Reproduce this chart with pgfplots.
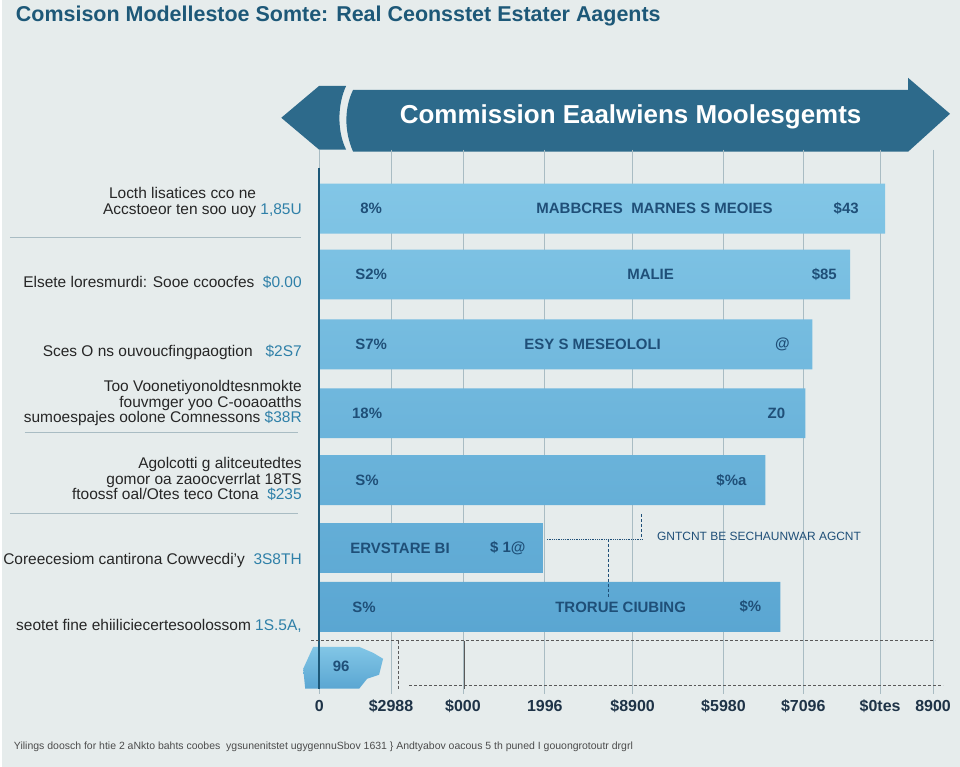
\documentclass[border=0pt]{standalone}
\usepackage{pgfplots}
\pgfplotsset{compat=1.18}
\usepackage{fontspec}
\setmainfont{Liberation Sans}
\definecolor{bg}{HTML}{E6ECEC}
\definecolor{bartop}{HTML}{82C6E6}
\definecolor{barbot}{HTML}{5AA6D2}
\definecolor{navy}{HTML}{1D5878}
\definecolor{banner}{HTML}{2D6A8B}
\definecolor{valblue}{HTML}{2F80A8}
\definecolor{gridc}{HTML}{A9BCC3}
\definecolor{inbar}{HTML}{1F4F78}
\definecolor{ticktxt}{HTML}{1E3347}
\newcommand{\fs}[1]{\fontsize{#1pt}{#1pt}\selectfont}
\begin{document}
\begin{tikzpicture}
\begin{scope}[x=1pt,y=-1pt]
\fill[bg] (0,0) rectangle (960,768);
% title
\node[anchor=west, text=navy, font=\fs{21.5}\bfseries, inner sep=0pt] at (14,16) {Comsison Modellestoe Somte: Real Ceonsstet Estater Aagents};
% banner
\fill[banner] (280,118) -- (318,86) -- (345,86) .. controls (336,105) and (336,132) .. (345,150) -- (318,150) -- cycle;
\fill[banner] (352,90) -- (908,90) -- (908,78) -- (950,114) -- (908,152) -- (908,152) -- (352,152) .. controls (343,132) and (343,108) .. (352,90) -- cycle;
\node[text=white, font=\fs{26}\bfseries] at (630,117) {Commission Eaalwiens Moolesgemts};
% left separators
\draw[gridc, line width=0.8pt] (8,238) -- (300,238);
\draw[gridc, line width=0.8pt] (23,433) -- (297,433);
\draw[gridc, line width=0.8pt] (8,514) -- (297,514);
% footer
\node[anchor=west, text=black!70, font=\fs{10.5}, inner sep=0pt] at (12,748) {Yilings doosch for htie 2 aNkto bahts coobes \ ygsunenitstet ugygennuSbov 1631 \} Andtyabov oacous 5 th puned I gouongrotoutr drgrl};
\end{scope}
\begin{axis}[
  x=1pt, y=1pt, y dir=reverse,
  anchor=north west, at={(318pt,-150pt)},
  xmin=0, xmax=620, ymin=150, ymax=695,
  axis line style={draw=none},
  clip=false,
  xtick={0,72,144,226,314,405,485,562,615},
  xticklabels={0,\$2988,\$000,1996,\$8900,\$5980,\$7096,\$0tes,8900},
  xticklabel style={font=\fs{16}\bfseries, text=ticktxt, anchor=base, yshift=-18pt},
  xmajorgrids, grid style={gridc, line width=0.7pt},
  major tick length=0pt,
  ytick={203,283,353,404,480,562,627},
  yticklabels={
    {Locth lisatices cco ne \hphantom{1,85U}\\Accstoeor ten soo uoy \textcolor{valblue}{1,85U}},
    {Elsete loresmurdi: Sooe ccoocfes \ \textcolor{valblue}{\$0.00}},
    {Sces O ns ouvoucfingpaogtion \ \ \textcolor{valblue}{\$2S7}},
    {Too Voonetiyonoldtesnmokte\\fouvmger yoo C-ooaoatths\\sumoespajes oolone Comnessons \textcolor{valblue}{\$38R}},
    {Agolcotti g alitceutedtes\\gomor oa zaoocverrlat 18TS\\ftoossf oal/Otes teco Ctona \ \textcolor{valblue}{\$235}},
    {Coreecesiom cantirona Cowvecdi'y \ \textcolor{valblue}{3S8TH}},
    {seotet fine ehiiliciecertesoolossom \textcolor{valblue}{1S.5A,}}},
  yticklabel style={align=right, font=\fs{15.5}, text=black!85, xshift=-14pt},
]
\addplot[xbar, bar width=50, bar shift=0pt, draw=none, top color=bartop, bottom color=barbot]
  coordinates {(567,209) (532,275) (494,345) (487,414) (447,481) (224,549) (462,608)};
\addplot[draw=none, top color=bartop, bottom color=barbot]
  coordinates {(-6,648) (40,648) (54,654) (64,660) (60,676) (48,680) (40,690) (-14,690) (-16,670)} -- cycle;
% axis spine
\draw[navy, line width=2.5pt] (axis cs:0,168) -- (axis cs:0,690);
% in-bar text
\begin{scope}[every node/.style={text=inbar, font=\fs{15}\bfseries}]
\node at (axis cs:52,209) {8\%};
\node at (axis cs:336,209) {MABBCRES \ MARNES S MEOIES};
\node at (axis cs:528,209) {\$43};
\node at (axis cs:52,275) {S2\%};
\node at (axis cs:332,275) {MALIE};
\node at (axis cs:506,275) {\$85};
\node at (axis cs:52,345) {S7\%};
\node at (axis cs:274,345) {ESY S MESEOLOLI};
\node at (axis cs:464,345) {@};
\node at (axis cs:48,414) {18\%};
\node at (axis cs:458,414) {Z0};
\node at (axis cs:48,481) {S\%};
\node at (axis cs:413,481) {\$\%a};
\node at (axis cs:81,549) {ERVSTARE BI};
\node at (axis cs:189,549) {\$ 1@};
\node at (axis cs:45,608) {S\%};
\node at (axis cs:302,608) {TRORUE CIUBING};
\node at (axis cs:432,608) {\$\%};
\node at (axis cs:22,668) {96};
\end{scope}
% annotation
\draw[inbar, densely dotted, line width=0.8pt] (axis cs:228,540) -- (axis cs:325,540);
\draw[inbar, densely dashed, line width=0.7pt] (axis cs:290,540) -- (axis cs:290,598);
\draw[inbar, densely dashed, line width=0.7pt] (axis cs:323,515) -- (axis cs:323,540);
\node[anchor=west, text=inbar, font=\fs{12}] at (axis cs:335,537) {GNTCNT BE SECHAUNWAR AGCNT};
% bottom lines
\draw[black!65, densely dashed, line width=0.8pt] (axis cs:-8,642) -- (axis cs:617,642);
\draw[black!65, densely dashed, line width=0.8pt] (axis cs:90,687) -- (axis cs:625,687);
\draw[black!65, densely dashed, line width=0.8pt] (axis cs:79,642) -- (axis cs:79,690);
\draw[black!65, line width=0.6pt] (axis cs:145,642) -- (axis cs:145,690);
\end{axis}
\end{tikzpicture}
\end{document}
